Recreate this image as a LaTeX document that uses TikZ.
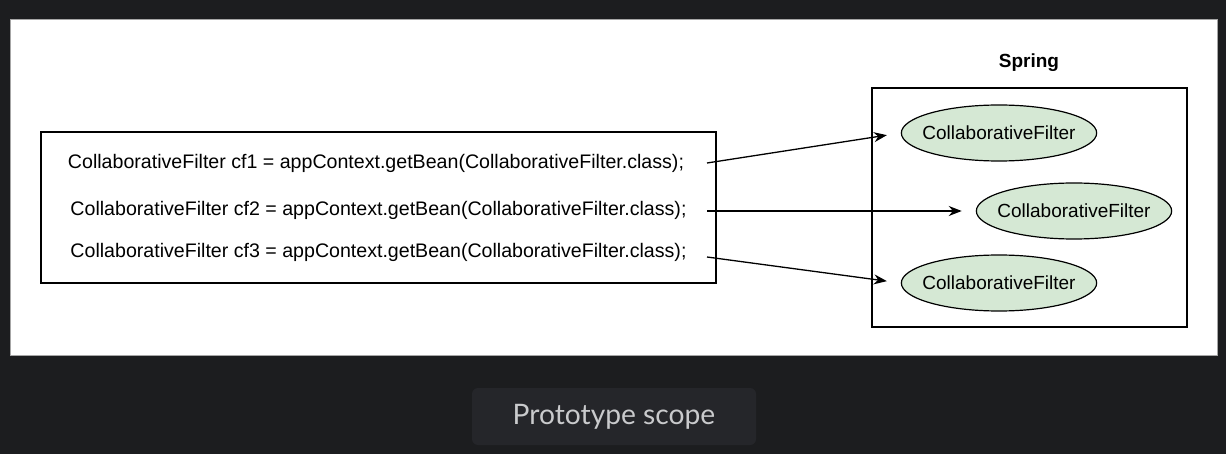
\documentclass[tikz,border=0pt]{standalone}
\usepackage{fontspec}
\setmainfont{Liberation Sans}
\newfontfamily\captionfont{Lato}
\usetikzlibrary{arrows.meta,shapes.geometric}
\definecolor{pagebg}{HTML}{1C1D1F}
\definecolor{capbg}{HTML}{25262A}
\definecolor{captext}{HTML}{C9CACC}
\definecolor{beanfill}{HTML}{D5E8D4}
\begin{document}
\begin{tikzpicture}[x=1pt,y=-1pt,
    codeline/.style={font=\fontsize{19.6}{22}\selectfont, inner sep=0pt},
    bean/.style={ellipse, draw, line width=1.2pt, fill=beanfill, minimum height=56pt, inner xsep=-7.5pt, inner ysep=6pt, font=\fontsize{19}{22}\selectfont},
    frame/.style={draw, line width=1.3pt, inner sep=0pt},
    link/.style={-{Stealth[length=13pt,width=10pt]}, line width=1.3pt}]
    % page
    \fill[pagebg] (0,0) rectangle (1226,454);
    \useasboundingbox (0,0) rectangle (1226,454);
    \filldraw[fill=white, draw=gray!70, line width=1pt] (10,20) rectangle (1217,355);

    % calling code
    \node[frame, minimum width=675pt, minimum height=151pt] (code) at (378.5,207.5) {};
    \node[codeline] (l1) at (376,163) {CollaborativeFilter cf1 = appContext.getBean(CollaborativeFilter.class);};
    \node[codeline] (l2) at (378.5,210) {CollaborativeFilter cf2 = appContext.getBean(CollaborativeFilter.class);};
    \node[codeline] (l3) at (378.5,252) {CollaborativeFilter cf3 = appContext.getBean(CollaborativeFilter.class);};

    % container
    \node[frame, minimum width=315pt, minimum height=239pt] (spring) at (1029.5,207.5) {};
    \node[font=\fontsize{19}{22}\selectfont\bfseries] (springlbl) at (1029,63) {Spring};
    \node[bean] (b1) at (999,133) {CollaborativeFilter};
    \node[bean] (b2) at (1074,211) {CollaborativeFilter};
    \node[bean] (b3) at (999,283) {CollaborativeFilter};

    \coordinate (s1) at (707,163);
    \coordinate (s2) at (707,211);
    \coordinate (s3) at (707,257);
    \draw[link, shorten >=14pt] (s1) -- (b1.west);
    \draw[link, shorten >=14pt] (s2) -- (b2.west);
    \draw[link, shorten >=14pt] (s3) -- (b3.west);

    % caption
    \node[fill=capbg, rounded corners=6pt, minimum width=284pt, minimum height=57pt, text=captext, font=\captionfont\fontsize{28.2}{31}\selectfont] (caption) at (614,416.5) {Prototype scope};
\end{tikzpicture}
\end{document}
